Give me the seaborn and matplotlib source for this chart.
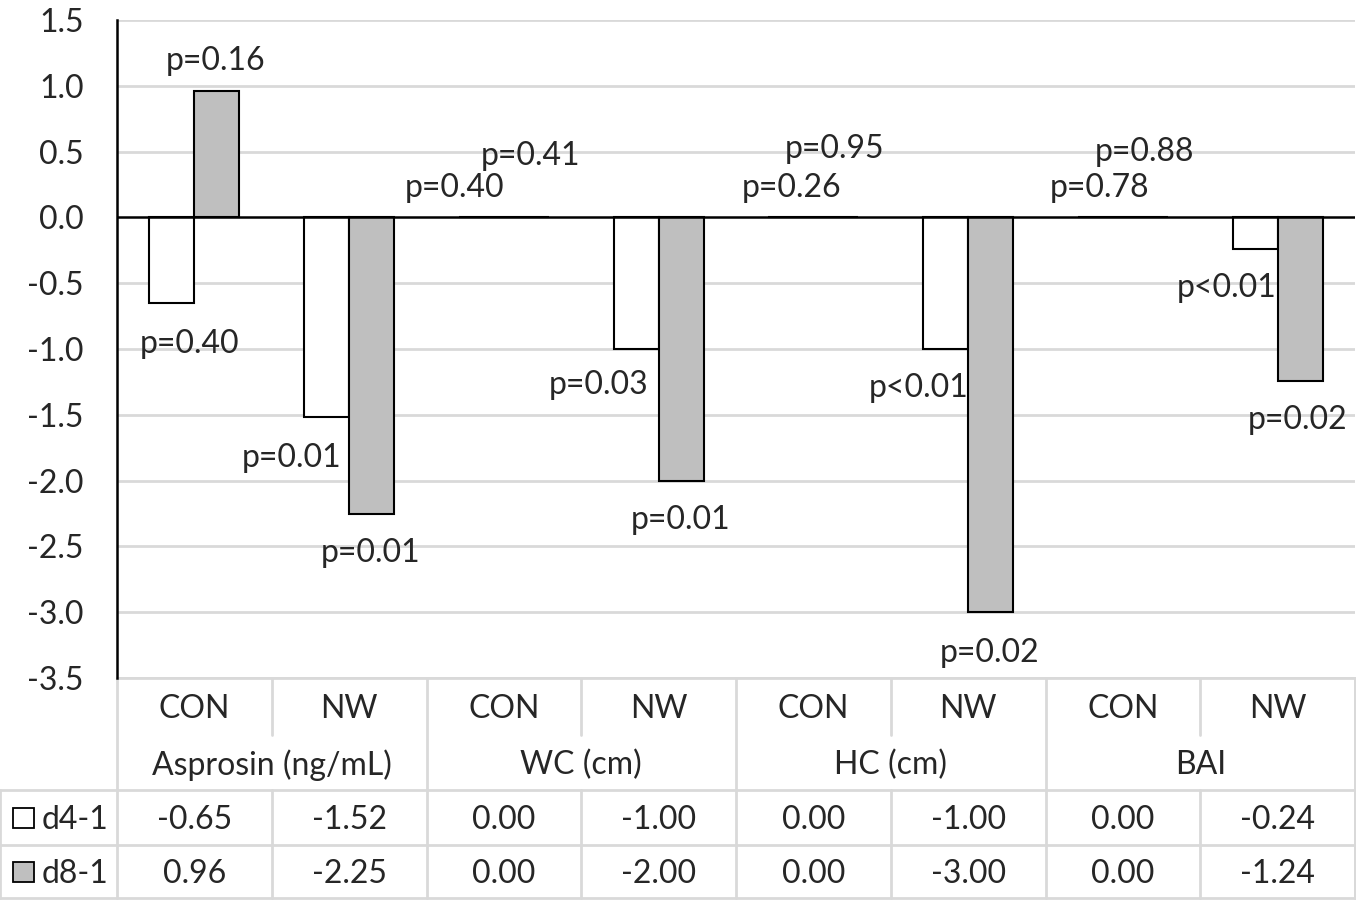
import pandas as pd
import matplotlib
matplotlib.use("Agg")
import matplotlib.pyplot as plt
from matplotlib.lines import Line2D
from matplotlib.patches import Rectangle
import seaborn as sns

# datos
grupos = ["CON", "NW", "CON", "NW", "CON", "NW", "CON", "NW"]
variables = ["Asprosin (ng/mL)", "WC (cm)", "HC (cm)", "BAI"]
series = ["d4-1", "d8-1"]
d4_1 = [-0.65, -1.52, 0.00, -1.00, 0.00, -1.00, 0.00, -0.24]
d8_1 = [0.96, -2.25, 0.00, -2.00, 0.00, -3.00, 0.00, -1.24]
p_d4_1 = ["p=0.40", "p=0.01", "p=0.40", "p=0.03", "p=0.26", "p<0.01", "p=0.78", "p<0.01"]
p_d8_1 = ["p=0.16", "p=0.01", "p=0.41", "p=0.01", "p=0.95", "p=0.02", "p=0.88", "p=0.02"]
y_ticks = [-3.5, -3.0, -2.5, -2.0, -1.5, -1.0, -0.5, 0.0, 0.5, 1.0, 1.5]

# posicion de las etiquetas (desplazamiento x en categorias, y en datos)
pos_d4_1 = [(-0.03, -0.96), (-0.37, -1.83), (-0.32, 0.22), (-0.39, -1.27),
            (-0.14, 0.22), (-0.32, -1.30), (-0.15, 0.22), (-0.33, -0.54)]
pos_d8_1 = [(0.14, 1.19), (0.14, -2.55), (0.17, 0.47), (0.14, -2.30),
            (0.14, 0.52), (0.14, -3.31), (0.14, 0.50), (0.13, -1.54)]

colores = ["white", "#BFBFBF"]
gris = "#D9D9D9"

cats = [f"{variables[i // 2]} {g}" for i, g in enumerate(grupos)]
df = pd.DataFrame({
    "cat": cats * 2,
    "serie": [series[0]] * 8 + [series[1]] * 8,
    "valor": d4_1 + d8_1,
})

sns.set_style("white")
plt.rcParams["font.family"] = ["Lato", "DejaVu Sans"]
fs = 23

W, H = 1356, 901
fig = plt.figure(figsize=(W / 100, H / 100), dpi=100)
ax = fig.add_axes([117 / W, 1 - 678 / H, 1238 / W, 658 / H])

sns.barplot(data=df, x="cat", y="valor", hue="serie", order=cats,
            hue_order=series, palette=colores, edgecolor="black",
            linewidth=1.5, width=0.58, gap=0, legend=False, ax=ax,
            zorder=3)

ax.set_ylim(-3.5, 1.5)
ax.set_xlim(-0.5, 7.5)
ax.set_yticks(y_ticks)
ax.set_yticklabels([f"{v:.1f}" for v in y_ticks], fontsize=fs)
ax.tick_params(axis="y", length=0, pad=24)
ax.set_xticks([])
ax.set_xlabel("")
ax.set_ylabel("")
for s in ["top", "right", "bottom"]:
    ax.spines[s].set_visible(False)
ax.spines["left"].set_linewidth(1.8)
ax.spines["left"].set_color("black")
for v in y_ticks:
    if v != 0:
        ax.axhline(v, color=gris, lw=2, zorder=1)
ax.axhline(0, color="black", lw=1.8, zorder=4)

# etiquetas p
for i in range(8):
    dx, y = pos_d4_1[i]
    ax.text(i + dx, y, p_d4_1[i], ha="center", va="center", fontsize=fs, zorder=5)
    dx, y = pos_d8_1[i]
    ax.text(i + dx, y, p_d8_1[i], ha="center", va="center", fontsize=fs, zorder=5)

# tabla de datos debajo del grafico
tr = ax.get_xaxis_transform()
h_ax = 658
def fy(py):
    return (678 - py) / h_ax

x_izq = -0.5 - 117 / 155
def linea(x0, x1, y0, y1):
    ax.add_line(Line2D([x0, x1], [y0, y1], transform=tr, color=gris, lw=2,
                       clip_on=False))

linea(-0.5, 7.5, fy(678), fy(678))
linea(x_izq, 7.5, fy(790), fy(790))
linea(x_izq, 7.5, fy(845), fy(845))
linea(x_izq, 7.5, fy(898), fy(898))
linea(x_izq, x_izq, fy(790), fy(898))
linea(7.5, 7.5, fy(678), fy(898))
for k in range(9):
    x = k - 0.5
    if k % 2 == 0:
        linea(x, x, fy(678), fy(898))
    else:
        linea(x, x, fy(678), fy(735))
        linea(x, x, fy(790), fy(898))

for i, g in enumerate(grupos):
    ax.text(i, fy(709), g, transform=tr, ha="center", va="center", fontsize=fs)
    ax.text(i, fy(820), f"{d4_1[i]:.2f}", transform=tr, ha="center", va="center", fontsize=fs)
    ax.text(i, fy(874), f"{d8_1[i]:.2f}", transform=tr, ha="center", va="center", fontsize=fs)
for j, v in enumerate(variables):
    ax.text(2 * j + 0.5, fy(765), v, transform=tr, ha="center", va="center", fontsize=fs)

for serie, col, py in zip(series, colores, [818, 872]):
    ax.add_patch(Rectangle((x_izq + 13 / 155, fy(py + 10)), 21 / 155, 20 / h_ax,
                           transform=tr, facecolor=col, edgecolor="black",
                           lw=1.3, clip_on=False))
    ax.text(x_izq + 42 / 155, fy(py + 2), serie, transform=tr, ha="left",
            va="center", fontsize=fs)

fig.savefig("out.png", dpi=100)
